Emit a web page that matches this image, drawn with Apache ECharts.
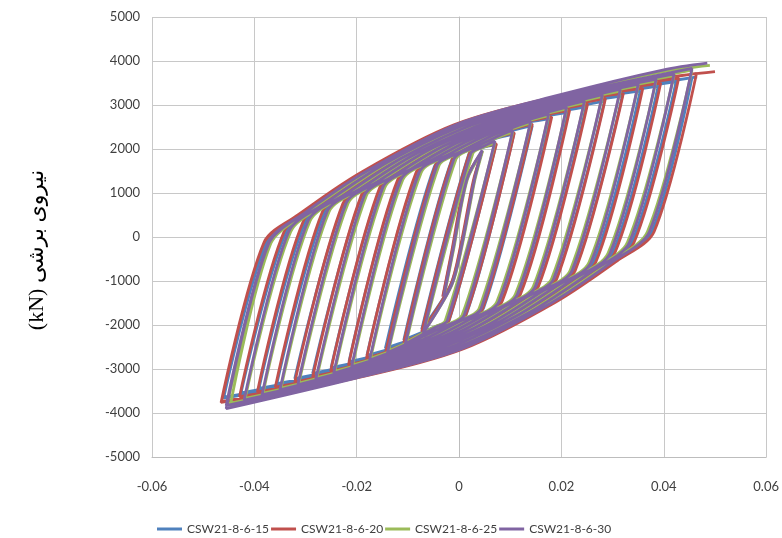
<!DOCTYPE html>
<html>
<head>
<meta charset="utf-8">
<script src="https://cdn.jsdelivr.net/npm/echarts@6/dist/echarts.min.js"></script>
<style>html,body{margin:0;padding:0;background:#fff}#c{width:782px;height:538px}</style>
</head>
<body>
<div id="c"></div>
<script>
const seriesNames = ['CSW21-8-6-15', 'CSW21-8-6-20', 'CSW21-8-6-25', 'CSW21-8-6-30'];
const seriesColors = ['#4F81BD', '#C0504D', '#9BBB59', '#8064A2'];
const xTicks = [-0.06, -0.04, -0.02, 0, 0.02, 0.04, 0.06];
const yTicks = [-5000, -4000, -3000, -2000, -1000, 0, 1000, 2000, 3000, 4000, 5000];
const yTitle = '\u202Bنیروی برشی (kN)\u202C';

// drift (x) / shear force kN (y) points, one array per cycle
const loops15 = [
[[-0.0031,-1330],[-0.0013,-300],[0.0014,1280],[0.0044,1920],[0.0029,1280],[0.0004,-200],[-0.0016,-1080]],
[[-0.0073,-2100],[0.0019,1880],[0.0042,2020],[0.0072,2100],[-0.0019,-1880],[-0.0042,-2020]],
[[-0.0108,-2340],[-0.0014,1760],[0.0029,2020],[0.0066,2220],[0.0107,2340],[0.0014,-1760],[-0.0029,-2020],[-0.0066,-2220]],
[[-0.0144,-2530],[-0.0048,1610],[-0.0004,1890],[0.0066,2290],[0.0143,2530],[0.0048,-1610],[0.0004,-1890],[-0.0066,-2290]],
[[-0.018,-2690],[-0.0083,1450],[-0.0025,1850],[0.0045,2260],[0.0105,2530],[0.0178,2690],[0.0083,-1450],[0.0025,-1850],[-0.0045,-2260],[-0.0105,-2530]],
[[-0.0215,-2830],[-0.0119,1280],[-0.0055,1740],[0.0025,2220],[0.0115,2610],[0.0213,2830],[0.0119,-1280],[0.0055,-1740],[-0.0025,-2220],[-0.0115,-2610]],
[[-0.025,-2970],[-0.0154,1110],[-0.0095,1550],[-0.0005,2130],[0.0115,2650],[0.0248,2960],[0.0154,-1110],[0.0095,-1550],[0.0005,-2130],[-0.0115,-2650]],
[[-0.0286,-3100],[-0.019,930],[-0.0135,1350],[-0.0035,2030],[0.0095,2620],[0.0284,3090],[0.019,-930],[0.0135,-1350],[0.0035,-2030],[-0.0095,-2620]],
[[-0.0321,-3220],[-0.0226,745],[-0.0165,1230],[-0.0055,2000],[0.0095,2670],[0.0205,3000],[0.0319,3210],[0.0226,-745],[0.0165,-1230],[0.0055,-2000],[-0.0095,-2670],[-0.0205,-3000]],
[[-0.0356,-3330],[-0.0263,560],[-0.0195,1100],[-0.0085,1890],[0.0065,2610],[0.0215,3060],[0.0354,3320],[0.0263,-560],[0.0195,-1100],[0.0085,-1890],[-0.0065,-2610],[-0.0215,-3060]],
[[-0.0391,-3440],[-0.03,355],[-0.0225,965],[-0.0115,1780],[0.0035,2550],[0.0215,3090],[0.0389,3430],[0.03,-355],[0.0225,-965],[0.0115,-1780],[-0.0035,-2550],[-0.0215,-3090]],
[[-0.0426,-3540],[-0.0338,110],[-0.0265,760],[-0.0145,1670],[0.0015,2530],[0.0215,3120],[0.0424,3530],[0.0338,-110],[0.0265,-760],[0.0145,-1670],[-0.0015,-2530],[-0.0215,-3120]],
[[-0.046,-3640],[-0.0377,-130],[-0.0305,545],[-0.0185,1470],[-0.0005,2500],[0.0195,3110],[0.0455,3620],[0.0377,130],[0.0305,-545],[0.0185,-1470],[0.0005,-2500],[-0.0195,-3110]],
[[-0.046,-3660],[-0.0377,-150],[-0.0305,545],[-0.0185,1480],[-0.0005,2510],[0.0195,3130],[0.04,3520],[0.0465,3640]]
];
const loops20 = [
[[-0.0032,-1360],[-0.0014,-300],[0.0013,1290],[0.0045,1940],[0.0028,1290],[0.0003,-200],[-0.0017,-1100]],
[[-0.0073,-2150],[0.002,1900],[0.0043,2030],[0.0073,2120],[-0.002,-1900],[-0.0043,-2030]],
[[-0.0108,-2400],[-0.0013,1775],[0.003,2030],[0.0067,2237],[0.0108,2370],[0.0013,-1775],[-0.003,-2030],[-0.0067,-2237]],
[[-0.0143,-2600],[-0.0046,1630],[-0.0003,1898],[0.0067,2310],[0.0143,2570],[0.0046,-1630],[0.0003,-1898],[-0.0067,-2310]],
[[-0.0181,-2760],[-0.0084,1467],[-0.0026,1858],[0.0044,2276],[0.0104,2554],[0.0181,2730],[0.0084,-1467],[0.0026,-1858],[-0.0044,-2276],[-0.0104,-2554]],
[[-0.0216,-2910],[-0.012,1300],[-0.0056,1746],[0.0024,2237],[0.0114,2637],[0.0216,2880],[0.012,-1300],[0.0056,-1746],[-0.0024,-2237],[-0.0114,-2637]],
[[-0.0251,-3050],[-0.0155,1126],[-0.0096,1552],[-0.0006,2142],[0.0114,2684],[0.0251,3020],[0.0155,-1126],[0.0096,-1552],[0.0006,-2142],[-0.0114,-2684]],
[[-0.0286,-3180],[-0.0191,946],[-0.0136,1352],[-0.0036,2047],[0.0094,2659],[0.0286,3150],[0.0191,-946],[0.0136,-1352],[0.0036,-2047],[-0.0094,-2659]],
[[-0.0321,-3300],[-0.0227,760],[-0.0166,1229],[-0.0056,2013],[0.0094,2709],[0.0204,3051],[0.0321,3270],[0.0227,-760],[0.0166,-1229],[0.0056,-2013],[-0.0094,-2709],[-0.0204,-3051]],
[[-0.0359,-3410],[-0.0267,575],[-0.0199,1096],[-0.0089,1898],[0.0061,2648],[0.0211,3120],[0.0359,3380],[0.0267,-575],[0.0199,-1096],[0.0089,-1898],[-0.0061,-2648],[-0.0211,-3120]],
[[-0.0394,-3520],[-0.0304,368],[-0.0229,963],[-0.0119,1786],[0.0031,2587],[0.0211,3159],[0.0394,3500],[0.0304,-368],[0.0229,-963],[0.0119,-1786],[-0.0031,-2587],[-0.0211,-3159]],
[[-0.0429,-3630],[-0.0342,120],[-0.0269,756],[-0.0149,1678],[0.0011,2565],[0.0211,3198],[0.0429,3610],[0.0342,-120],[0.0269,-756],[0.0149,-1678],[-0.0011,-2565],[-0.0211,-3198]],
[[-0.0464,-3740],[-0.0381,-120],[-0.0309,540],[-0.0189,1478],[-0.0009,2540],[0.0191,3180],[0.0464,3720],[0.0381,120],[0.0309,-540],[0.0189,-1478],[0.0009,-2540],[-0.0191,-3180]],
[[-0.0465,-3760],[-0.0382,-150],[-0.031,540],[-0.019,1480],[-0.001,2550],[0.019,3190],[0.04,3620],[0.050,3760]]
];
const loops25 = [
[[-0.0029,-1340],[-0.0011,-300],[0.0016,1300],[0.0046,1960],[0.0031,1300],[0.0006,-200],[-0.0014,-1090]],
[[-0.0068,-2140],[0.0027,1900],[0.005,2050],[0.007,2140],[-0.0027,-1900],[-0.005,-2050]],
[[-0.0103,-2390],[-0.0006,1775],[0.0037,2050],[0.0074,2257],[0.0105,2390],[0.0006,-1775],[-0.0037,-2050],[-0.0074,-2257]],
[[-0.0138,-2593],[-0.0039,1630],[0.0004,1918],[0.0074,2330],[0.014,2593],[0.0039,-1630],[-0.0004,-1918],[-0.0074,-2330]],
[[-0.0173,-2760],[-0.0074,1467],[-0.0016,1878],[0.0054,2296],[0.0114,2574],[0.0175,2760],[0.0074,-1467],[0.0016,-1878],[-0.0054,-2296],[-0.0114,-2574]],
[[-0.0208,-2911],[-0.011,1300],[-0.0046,1766],[0.0034,2257],[0.0124,2657],[0.021,2911],[0.011,-1300],[0.0046,-1766],[-0.0034,-2257],[-0.0124,-2657]],
[[-0.0243,-3056],[-0.0145,1126],[-0.0086,1572],[0.0004,2162],[0.0124,2704],[0.0245,3056],[0.0145,-1126],[0.0086,-1572],[-0.0004,-2162],[-0.0124,-2704]],
[[-0.0278,-3195],[-0.0181,946],[-0.0126,1372],[-0.0026,2067],[0.0104,2679],[0.028,3195],[0.0181,-946],[0.0126,-1372],[0.0026,-2067],[-0.0104,-2679]],
[[-0.0313,-3318],[-0.0217,760],[-0.0156,1249],[-0.0046,2033],[0.0104,2729],[0.0214,3071],[0.0315,3318],[0.0217,-760],[0.0156,-1249],[0.0046,-2033],[-0.0104,-2729],[-0.0214,-3071]],
[[-0.0348,-3434],[-0.0254,575],[-0.0186,1116],[-0.0076,1918],[0.0074,2668],[0.0224,3140],[0.035,3434],[0.0254,-575],[0.0186,-1116],[0.0076,-1918],[-0.0074,-2668],[-0.0224,-3140]],
[[-0.0383,-3550],[-0.0291,368],[-0.0216,983],[-0.0106,1806],[0.0044,2607],[0.0224,3179],[0.0385,3550],[0.0291,-368],[0.0216,-983],[0.0106,-1806],[-0.0044,-2607],[-0.0224,-3179]],
[[-0.0418,-3667],[-0.0329,120],[-0.0256,776],[-0.0136,1698],[0.0024,2585],[0.0224,3218],[0.042,3667],[0.0329,-120],[0.0256,-776],[0.0136,-1698],[-0.0024,-2585],[-0.0224,-3218]],
[[-0.0453,-3790],[-0.0368,-120],[-0.0296,560],[-0.0176,1498],[0.0004,2560],[0.0204,3200],[0.0455,3790],[0.0368,120],[0.0296,-560],[0.0176,-1498],[-0.0004,-2560],[-0.0204,-3200]],
[[-0.0447,-3830],[-0.0368,-150],[-0.0296,560],[-0.0176,1500],[0.0004,2580],[0.0204,3230],[0.04,3760],[0.049,3900]]
];
const loops30 = [
[[-0.003,-1350],[-0.0012,-300],[0.0015,1300],[0.0045,1970],[0.003,1300],[0.0005,-200],[-0.0015,-1100]],
[[-0.007,-2180],[0.0023,1900],[0.0046,2050],[0.007,2180],[-0.0023,-1900],[-0.0046,-2050]],
[[-0.0105,-2430],[-0.001,1775],[0.0033,2050],[0.007,2257],[0.0105,2430],[0.001,-1775],[-0.0033,-2050],[-0.007,-2257]],
[[-0.014,-2633],[-0.0043,1630],[0,1918],[0.007,2330],[0.014,2633],[0.0043,-1630],[0,-1918],[-0.007,-2330]],
[[-0.0175,-2800],[-0.0078,1467],[-0.002,1878],[0.005,2296],[0.011,2574],[0.0175,2800],[0.0078,-1467],[0.002,-1878],[-0.005,-2296],[-0.011,-2574]],
[[-0.021,-2951],[-0.0114,1300],[-0.005,1766],[0.003,2257],[0.012,2657],[0.021,2951],[0.0114,-1300],[0.005,-1766],[-0.003,-2257],[-0.012,-2657]],
[[-0.0245,-3096],[-0.0149,1126],[-0.009,1572],[0,2162],[0.012,2704],[0.0245,3096],[0.0149,-1126],[0.009,-1572],[0,-2162],[-0.012,-2704]],
[[-0.028,-3235],[-0.0185,946],[-0.013,1372],[-0.003,2067],[0.01,2679],[0.028,3235],[0.0185,-946],[0.013,-1372],[0.003,-2067],[-0.01,-2679]],
[[-0.0315,-3358],[-0.0221,760],[-0.016,1249],[-0.005,2033],[0.01,2729],[0.021,3071],[0.0315,3358],[0.0221,-760],[0.016,-1249],[0.005,-2033],[-0.01,-2729],[-0.021,-3071]],
[[-0.035,-3474],[-0.0258,575],[-0.019,1116],[-0.008,1918],[0.007,2668],[0.022,3140],[0.035,3474],[0.0258,-575],[0.019,-1116],[0.008,-1918],[-0.007,-2668],[-0.022,-3140]],
[[-0.0385,-3590],[-0.0295,368],[-0.022,983],[-0.011,1806],[0.004,2607],[0.022,3179],[0.0385,3590],[0.0295,-368],[0.022,-983],[0.011,-1806],[-0.004,-2607],[-0.022,-3179]],
[[-0.042,-3707],[-0.0333,120],[-0.026,776],[-0.014,1698],[0.002,2585],[0.022,3218],[0.042,3707],[0.0333,-120],[0.026,-776],[0.014,-1698],[-0.002,-2585],[-0.022,-3218]],
[[-0.0455,-3830],[-0.0372,-120],[-0.030,560],[-0.018,1498],[0,2560],[0.02,3200],[0.0455,3830],[0.0372,120],[0.030,-560],[0.018,-1498],[0,-2560],[-0.02,-3200]],
[[-0.0455,-3900],[-0.0372,-150],[-0.030,560],[-0.018,1500],[0,2580],[0.02,3240],[0.04,3800],[0.0485,3950]]
];
const allLoops = [loops15, loops20, loops25, loops30];

const FONT = 'Lato, "Open Sans", sans-serif';
const chart = echarts.init(document.getElementById('c'), null, {renderer: 'canvas'});
chart.setOption({
  animation: false,
  backgroundColor: '#ffffff',
  textStyle: {fontFamily: FONT},
  grid: {left: 152, right: 13, top: 17, bottom: 81, containLabel: false},
  xAxis: {
    type: 'value', min: xTicks[0], max: xTicks[xTicks.length - 1], interval: 0.02,
    axisLine: {show: true, onZero: false, lineStyle: {color: '#bdbdbd', width: 1}},
    axisTick: {show: false},
    splitLine: {show: true, lineStyle: {color: '#c8c8c8', width: 1}},
    axisLabel: {color: '#404040', fontSize: 13, margin: 23, fontFamily: FONT,
      formatter: v => { const t = xTicks.find(t => Math.abs(t - v) < 1e-9); return String(t !== undefined ? t : v); }}
  },
  yAxis: {
    type: 'value', min: yTicks[0], max: yTicks[yTicks.length - 1], interval: 1000,
    axisLine: {show: true, lineStyle: {color: '#bdbdbd', width: 1}},
    axisTick: {show: false},
    splitLine: {show: true, lineStyle: {color: '#c8c8c8', width: 1}},
    axisLabel: {color: '#404040', fontSize: 13, margin: 12, fontFamily: FONT,
      formatter: v => { const t = yTicks.find(t => Math.abs(t - v) < 1e-6); return String(t !== undefined ? t : v); }}
  },
  legend: {
    top: 518, left: 152, itemWidth: 25, itemHeight: 3, itemGap: 2, icon: 'rect',
    textStyle: {color: '#404040', fontSize: 12, fontFamily: FONT},
    data: seriesNames
  },
  graphic: [{
    type: 'text', x: 37, y: 250, rotation: Math.PI / 2,
    style: {text: yTitle, font: '22px "Liberation Serif", "DejaVu Serif", "DejaVu Sans", serif',
      fill: '#000', align: 'center', verticalAlign: 'middle'}
  }],
  series: seriesNames.map((name, i) => ({
    name: name, type: 'line', symbol: 'none', smooth: 0.3,
    color: seriesColors[i],
    lineStyle: {width: 2.8, color: seriesColors[i]},
    data: allLoops[i].flat()
  }))
});
</script>
</body>
</html>
